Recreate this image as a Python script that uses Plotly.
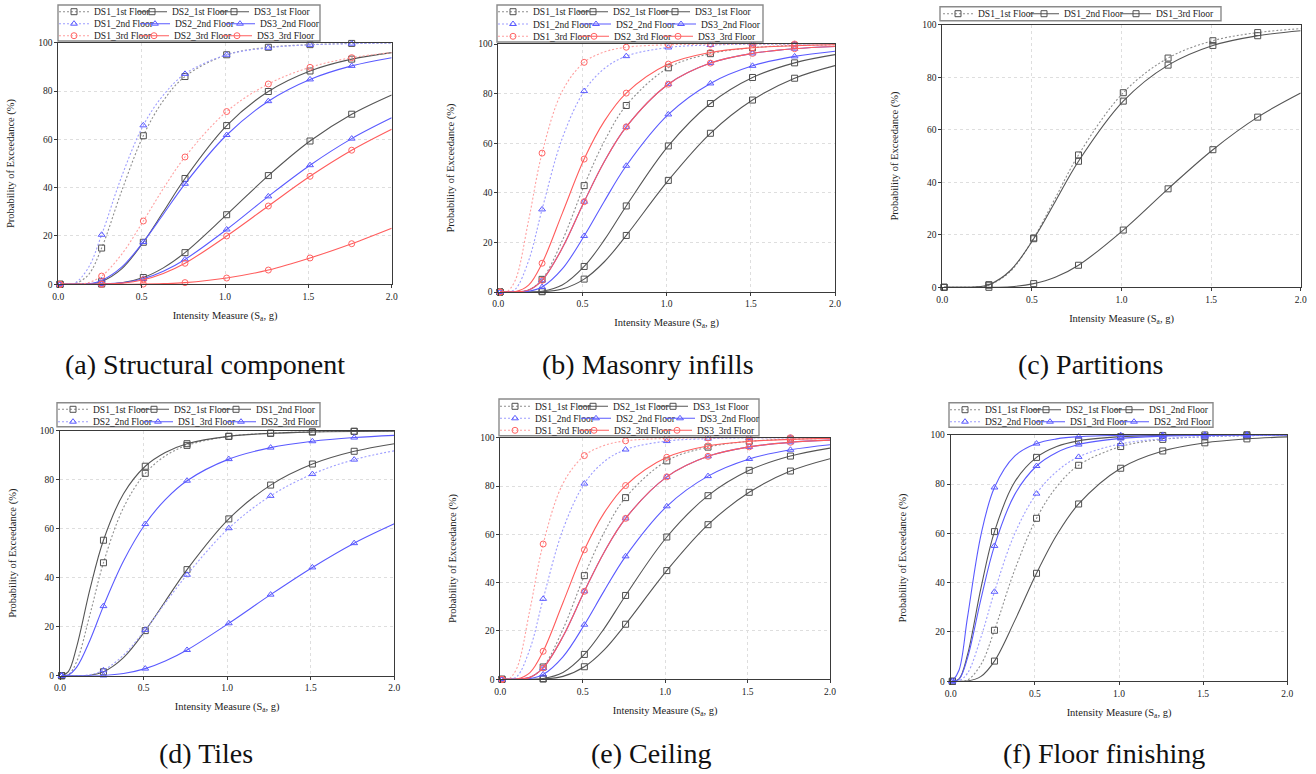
import plotly.graph_objects as go

W, H = 1316, 774
SERIF = "Liberation Serif"

# Intensity measure grid (Sa, g) at which the exceedance curves are tabulated
IM = [0.01, 0.05, 0.1, 0.18, 0.26, 0.38, 0.51, 0.63, 0.76, 1.01, 1.26, 1.51, 1.76, 2.0]
# grid points that carry a symbol
MARKER_IM = [0.01, 0.26, 0.51, 0.76, 1.01, 1.26, 1.51, 1.76]

# (a) Structural component, probability of exceedance (%)
str_ds1_1st = [0, 0, 0.2, 3.9, 15, 38.6, 61.5, 76, 86, 95, 98.1, 99.2, 99.7, 99.9]
str_ds2_1st = [0, 0, 0, 0.1, 1.2, 6.4, 17.4, 30, 43.8, 65.7, 79.8, 88.3, 93.2, 95.9]
str_ds3_1st = [0, 0, 0, 0, 0.1, 0.6, 2.8, 6.8, 13.1, 28.8, 45, 59.3, 70.4, 78.4]
str_ds1_2nd = [0, 0, 0.5, 6.8, 20.5, 44.6, 65.8, 78.3, 87.1, 95, 97.9, 99.1, 99.6, 99.8]
str_ds2_2nd = [0, 0, 0, 0.2, 1.6, 7.1, 17.5, 29, 41.6, 61.8, 75.8, 84.8, 90.4, 93.8]
str_ds3_2nd = [0, 0, 0, 0, 0.1, 0.6, 2.3, 5.4, 10.3, 22.7, 36.4, 49.3, 60.3, 68.9]
str_ds1_3rd = [0, 0, 0, 0.7, 3.4, 12.4, 26.2, 39.6, 52.7, 71.5, 82.9, 89.8, 93.8, 95.9]
str_ds2_3rd = [0, 0, 0, 0, 0.1, 0.5, 1.9, 4.5, 8.7, 20, 32.4, 44.7, 55.5, 64.2]
str_ds3_3rd = [0, 0, 0, 0, 0, 0, 0.1, 0.3, 0.7, 2.6, 5.9, 10.9, 16.8, 23.2]

# (b) Masonry infills
mas_ds1_1st = [0, 0, 0, 0.8, 5.1, 20.7, 42.9, 60.8, 75.2, 90.4, 96.1, 98.5, 99.4, 99.7]
mas_ds2_1st = [0, 0, 0, 0, 0.3, 2.8, 10.3, 21, 34.7, 58.9, 76, 86.5, 92.4, 95.7]
mas_ds3_1st = [0, 0, 0, 0, 0.1, 1.2, 5.2, 12.2, 22.8, 45, 64, 77.4, 86.2, 91.3]
mas_ds1_2nd = [0, 0, 1.1, 12.6, 33.3, 62, 81, 90.1, 95.1, 98.6, 99.6, 99.9, 99.95, 100]
mas_ds2_2nd = [0, 0, 0, 0.8, 4.7, 17.7, 36.4, 52.6, 66.6, 83.8, 92.3, 96.2, 98.1, 99]
mas_ds3_2nd = [0, 0, 0, 0.3, 2, 9.3, 22.6, 36.6, 50.9, 71.6, 84.1, 91.2, 95, 97.1]
mas_ds1_3rd = [0, 0.1, 4.6, 28.9, 56, 81, 92.6, 96.8, 98.7, 99.7, 99.9, 100, 100, 100]
mas_ds2_3rd = [0, 0, 0.1, 2.8, 11.6, 31.7, 53.6, 68.9, 80.2, 91.9, 96.6, 98.5, 99.3, 99.7]
mas_ds3_3rd = [0, 0, 0, 0.8, 4.7, 17.7, 36.4, 52.6, 66.6, 83.8, 92.3, 96.2, 98.1, 99]

# (c) Partitions
par_ds1_1st = [0, 0, 0, 0.1, 0.8, 6.1, 18.8, 33.9, 50.4, 74.1, 87.3, 93.9, 97, 98.5]
par_ds1_2nd = [0, 0, 0, 0.1, 1, 6.4, 18.5, 32.6, 48, 70.9, 84.6, 92.1, 95.8, 97.7]
par_ds1_3rd = [0, 0, 0, 0, 0, 0.2, 1.4, 3.8, 8.4, 21.8, 37.5, 52.4, 64.8, 74]

# (d) Tiles
til_ds1_1st = [0, 0.4, 5.8, 25.2, 46.1, 68.6, 82.6, 89.7, 94, 97.7, 99, 99.55, 99.8, 99.9]
til_ds2_1st = [0, 0, 0, 0.2, 1.6, 7.4, 18.4, 30.4, 43.3, 64, 77.8, 86.4, 91.6, 94.7]
til_ds1_2nd = [0, 1.7, 11.9, 35.5, 55.3, 74.3, 85.5, 91.1, 94.7, 97.7, 98.9, 99.45, 99.7, 99.8]
til_ds2_2nd = [0, 0, 0, 0.4, 2.2, 8.4, 18.7, 29.7, 41.2, 60.2, 73.4, 82.3, 88.2, 91.8]
til_ds1_3rd = [0, 0.3, 3.5, 14.6, 28.4, 46.8, 61.9, 71.9, 79.6, 88.4, 93.1, 95.7, 97.2, 98.1]
til_ds2_3rd = [0, 0, 0, 0, 0.1, 0.9, 2.9, 6, 10.5, 21.4, 33.1, 44.2, 54.1, 62]

# (e) Ceiling
cei_ds1_1st = [0, 0, 0, 0.8, 5.1, 20.7, 42.9, 60.8, 75.2, 90.4, 96.1, 98.5, 99.4, 99.7]
cei_ds2_1st = [0, 0, 0, 0, 0.3, 2.8, 10.3, 21, 34.7, 58.9, 76, 86.5, 92.4, 95.7]
cei_ds3_1st = [0, 0, 0, 0, 0.1, 1.2, 5.2, 12.2, 22.8, 45, 64, 77.4, 86.2, 91.3]
cei_ds1_2nd = [0, 0, 1.1, 12.6, 33.3, 62, 81, 90.1, 95.1, 98.6, 99.6, 99.9, 99.95, 100]
cei_ds2_2nd = [0, 0, 0, 0.8, 4.7, 17.7, 36.4, 52.6, 66.6, 83.8, 92.3, 96.2, 98.1, 99]
cei_ds3_2nd = [0, 0, 0, 0.3, 2, 9.3, 22.6, 36.6, 50.9, 71.6, 84.1, 91.2, 95, 97.1]
cei_ds1_3rd = [0, 0.1, 4.6, 28.9, 56, 81, 92.6, 96.8, 98.7, 99.7, 99.9, 100, 100, 100]
cei_ds2_3rd = [0, 0, 0.1, 2.8, 11.6, 31.7, 53.6, 68.9, 80.2, 91.9, 96.6, 98.5, 99.3, 99.7]
cei_ds3_3rd = [0, 0, 0, 0.8, 4.7, 17.7, 36.4, 52.6, 66.6, 83.8, 92.3, 96.2, 98.1, 99]

# (f) Floor finishing
flo_ds1_1st = [0, 0, 0.5, 6.8, 20.7, 45.1, 66.1, 78.9, 87.6, 95.2, 98.1, 99.2, 99.6, 99.8]
flo_ds2_1st = [0, 0, 0.1, 2, 8.2, 24.5, 43.8, 59.3, 71.9, 86.4, 93.4, 96.7, 98.3, 99.1]
flo_ds1_2nd = [0, 1, 10.8, 37.9, 60.7, 80.8, 90.8, 95.2, 97.5, 99.2, 99.7, 99.9, 100, 100]
flo_ds2_2nd = [0, 0.2, 3.3, 17.9, 36.3, 59.8, 76.1, 85.1, 91, 96.3, 98.3, 99.2, 99.6, 99.8]
flo_ds1_3rd = [0, 4.6, 26, 59.4, 78.6, 91.3, 96.4, 98.3, 99.2, 99.8, 99.9, 100, 100, 100]
flo_ds2_3rd = [0, 0.9, 9.5, 33.4, 54.9, 75.7, 87.3, 92.8, 96, 98.5, 99.4, 99.7, 99.9, 99.9]

DOT = "2px,2px"
STYLES = {
    "gray_dot": dict(line="#8e8e8e", marker="#505050", symbol="square-open", dash=DOT),
    "gray": dict(line="#555555", marker="#505050", symbol="square-open", dash="solid"),
    "blue_dot": dict(line="#9d9dff", marker="#5a5aff", symbol="triangle-up-open", dash=DOT),
    "blue": dict(line="#5a5aff", marker="#5a5aff", symbol="triangle-up-open", dash="solid"),
    "red_dot": dict(line="#ffa0a0", marker="#ff6464", symbol="circle-open", dash=DOT),
    "red": dict(line="#ff5c5c", marker="#ff6464", symbol="circle-open", dash="solid"),
}

# panel geometry in pixels: plot area (x0, y0, x1, y1), legend frame,
# legend row centres and the label start of each legend entry
PANELS = [
    dict(caption="(a) Structural component", cap=(205, 364),
         plot=(58.3, 42.7, 391.7, 284.3), box=(58, 5, 320, 41), rows_y=[11.7, 23.7, 35.7],
         cols=[[88, 170, 252], [88, 173, 258], [88, 172, 255]],
         rows=[[("DS1_1st Floor", str_ds1_1st, "gray_dot"), ("DS2_1st Floor", str_ds2_1st, "gray"), ("DS3_1st Floor", str_ds3_1st, "gray")],
               [("DS1_2nd Floor", str_ds1_2nd, "blue_dot"), ("DS2_2nd Floor", str_ds2_2nd, "blue"), ("DS3_2nd Floor", str_ds3_2nd, "blue")],
               [("DS1_3rd Floor", str_ds1_3rd, "red_dot"), ("DS2_3rd Floor", str_ds2_3rd, "red"), ("DS3_3rd Floor", str_ds3_3rd, "red")]]),
    dict(caption="(b) Masonry infills", cap=(648, 364),
         plot=(498.3, 44, 835, 292), box=(497, 5, 763, 42), rows_y=[11.7, 24, 36.3],
         cols=[[528, 611, 693], [528, 614, 699], [528, 612, 696]],
         rows=[[("DS1_1st Floor", mas_ds1_1st, "gray_dot"), ("DS2_1st Floor", mas_ds2_1st, "gray"), ("DS3_1st Floor", mas_ds3_1st, "gray")],
               [("DS1_2nd Floor", mas_ds1_2nd, "blue_dot"), ("DS2_2nd Floor", mas_ds2_2nd, "blue"), ("DS3_2nd Floor", mas_ds3_2nd, "blue")],
               [("DS1_3rd Floor", mas_ds1_3rd, "red_dot"), ("DS2_3rd Floor", mas_ds2_3rd, "red"), ("DS3_3rd Floor", mas_ds3_3rd, "red")]]),
    dict(caption="(c) Partitions", cap=(1090, 364),
         plot=(942.3, 24.7, 1300.7, 287.3), box=(940, 6.7, 1221, 20.7), rows_y=[13.7],
         cols=[[976, 1062, 1154]],
         rows=[[("DS1_1st Floor", par_ds1_1st, "gray_dot"), ("DS1_2nd Floor", par_ds1_2nd, "gray"), ("DS1_3rd Floor", par_ds1_3rd, "gray")]]),
    dict(caption="(d) Tiles", cap=(206, 753),
         plot=(60, 430.7, 394.3, 675.7), box=(57, 402.7, 320, 426.7), rows_y=[409.3, 421.7],
         cols=[[91, 172, 254], [91, 176, 259]],
         rows=[[("DS1_1st Floor", til_ds1_1st, "gray_dot"), ("DS2_1st Floor", til_ds2_1st, "gray"), ("DS1_2nd Floor", til_ds1_2nd, "gray")],
               [("DS2_2nd Floor", til_ds2_2nd, "blue_dot"), ("DS1_3rd Floor", til_ds1_3rd, "blue"), ("DS2_3rd Floor", til_ds2_3rd, "blue")]]),
    dict(caption="(e) Ceiling", cap=(651, 753),
         plot=(500.3, 437.7, 830, 679.3), box=(499, 399, 759, 435.7), rows_y=[406.3, 418.3, 430.3],
         cols=[[530, 611, 691], [530, 614, 698], [530, 612, 695]],
         rows=[[("DS1_1st Floor", cei_ds1_1st, "gray_dot"), ("DS2_1st Floor", cei_ds2_1st, "gray"), ("DS3_1st Floor", cei_ds3_1st, "gray")],
               [("DS1_2nd Floor", cei_ds1_2nd, "blue_dot"), ("DS2_2nd Floor", cei_ds2_2nd, "blue"), ("DS3_2nd Floor", cei_ds3_2nd, "blue")],
               [("DS1_3rd Floor", cei_ds1_3rd, "red_dot"), ("DS2_3rd Floor", cei_ds2_3rd, "red"), ("DS3_3rd Floor", cei_ds3_3rd, "red")]]),
    dict(caption="(f) Floor finishing", cap=(1104, 753),
         plot=(950.7, 434.7, 1287.3, 681.3), box=(949, 402.7, 1213, 427.3), rows_y=[409.7, 421.7],
         cols=[[983, 1064, 1147], [983, 1068, 1152]],
         rows=[[("DS1_1st Floor", flo_ds1_1st, "gray_dot"), ("DS2_1st Floor", flo_ds2_1st, "gray"), ("DS1_2nd Floor", flo_ds1_2nd, "gray")],
               [("DS2_2nd Floor", flo_ds2_2nd, "blue_dot"), ("DS1_3rd Floor", flo_ds1_3rd, "blue"), ("DS2_3rd Floor", flo_ds2_3rd, "blue")]]),
]

marker_idx = [IM.index(v) for v in MARKER_IM]


def px_x(v):
    return v / W


def px_y(v):
    return 1 - v / H


fig = go.Figure()
layout = dict(
    width=W, height=H, margin=dict(l=0, r=0, t=0, b=0, autoexpand=False),
    paper_bgcolor="white", plot_bgcolor="white", hovermode=False,
    font=dict(family=SERIF, color="#222"),
)
shapes, annotations = [], []

axis_common = dict(
    showline=True, linecolor="#3a3a3a", linewidth=1, mirror=True,
    ticks="outside", ticklen=3, tickwidth=1, tickcolor="#3a3a3a",
    showgrid=True, gridcolor="#dedede", griddash="dot", gridwidth=1,
    zeroline=False, tickfont=dict(family=SERIF, size=9.5, color="#222"),
)
title_font = dict(family=SERIF, size=10.5, color="#222")

legend_no = 0
for p, panel in enumerate(PANELS, start=1):
    sfx = "" if p == 1 else str(p)
    xa, ya = "x" + sfx, "y" + sfx
    x0, y0, x1, y1 = panel["plot"]
    layout["xaxis" + sfx] = dict(
        axis_common, domain=[px_x(x0), px_x(x1)], anchor=ya,
        range=[0, 2], tick0=0, dtick=0.5, tickformat=".1f",
        title=dict(text="Intensity Measure (S<sub>a</sub>, g)", font=title_font, standoff=10),
    )
    layout["yaxis" + sfx] = dict(
        axis_common, domain=[px_y(y1), px_y(y0)], anchor=xa,
        range=[0, 100], tick0=0, dtick=20,
        title=dict(text="Probability of Exceedance (%)", font=title_font, standoff=21),
    )

    bx0, by0, bx1, by1 = panel["box"]
    shapes.append(dict(type="rect", xref="paper", yref="paper",
                       x0=px_x(bx0), x1=px_x(bx1), y0=px_y(by1), y1=px_y(by0),
                       line=dict(color="#8a8a8a", width=1.4), fillcolor="white", layer="above"))

    for row, ry, cols in zip(panel["rows"], panel["rows_y"], panel["cols"]):
        for (name, vals, skey), tx in zip(row, cols):
            # one single-entry legend per series, placed in the legend frame
            legend_no += 1
            lkey = "legend" if legend_no == 1 else f"legend{legend_no}"
            layout[lkey] = dict(
                orientation="h", x=px_x(max(tx - 38, bx0 - 4)), xanchor="left",
                y=px_y(ry), yanchor="middle",
                bgcolor="rgba(0,0,0,0)", borderwidth=0, itemwidth=30,
                font=dict(family=SERIF, size=9.5, color="#222"),
                itemclick=False, itemdoubleclick=False,
            )
            st = STYLES[skey]
            line = dict(color=st["line"], width=1.1, dash=st["dash"])
            marker = dict(symbol=st["symbol"], size=6, color=st["marker"], line=dict(width=1, color=st["marker"]))
            fig.add_trace(go.Scatter(
                x=IM, y=vals, mode="lines", xaxis=xa, yaxis=ya, showlegend=False,
                line=dict(line, shape="spline", smoothing=1.0), hoverinfo="skip",
            ))
            fig.add_trace(go.Scatter(
                x=[IM[i] for i in marker_idx], y=[vals[i] for i in marker_idx],
                mode="markers", xaxis=xa, yaxis=ya, showlegend=False, cliponaxis=False,
                marker=marker, hoverinfo="skip",
            ))
            fig.add_trace(go.Scatter(
                x=[None], y=[None], mode="lines+markers", name=name, legend=lkey,
                xaxis=xa, yaxis=ya, line=line, marker=marker, showlegend=True,
            ))

    cx, cy = panel["cap"]
    annotations.append(dict(text=panel["caption"], xref="paper", yref="paper",
                            x=px_x(cx), y=px_y(cy), xanchor="center", yanchor="middle",
                            showarrow=False, font=dict(family=SERIF, size=28, color="#111")))

layout["shapes"] = shapes
layout["annotations"] = annotations
fig.update_layout(**layout)
fig.write_html("out.html")
